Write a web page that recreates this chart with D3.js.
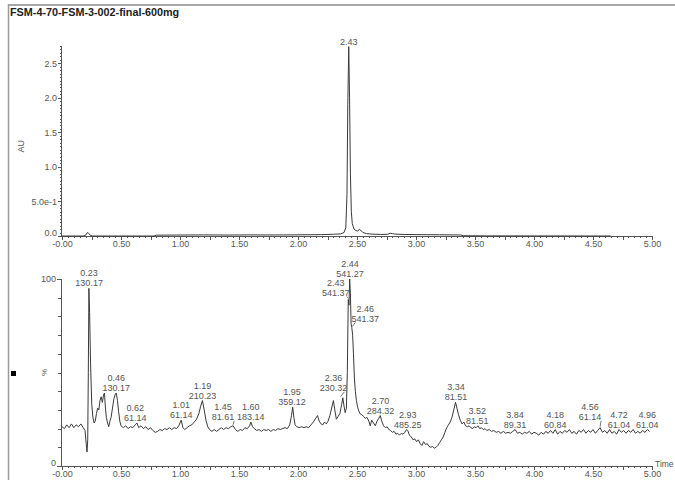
<!DOCTYPE html>
<html>
<head>
<meta charset="utf-8">
<script src="https://cdn.jsdelivr.net/npm/d3@7"></script>
<style>
  body { margin: 0; background: #fff; }
  svg { display: block; }
  text { font-family: "Liberation Sans", Arial, sans-serif; fill: #555; }
  .trace { fill: none; stroke: #3a3a3a; stroke-width: 1; stroke-linejoin: round; }
  .axis path, .axis line { stroke: #555; shape-rendering: crispEdges; }
</style>
</head>
<body>
<div id="chart"></div>
<script>
// Chart data
const title = "FSM-4-70-FSM-3-002-final-600mg";
const timeTicks = [0, 0.5, 1, 1.5, 2, 2.5, 3, 3.5, 4, 4.5, 5];
const timeTickLabels = ["-0.00", "0.50", "1.00", "1.50", "2.00", "2.50", "3.00", "3.50", "4.00", "4.50", "5.00"];
const auTicks = [0, 0.5, 1, 1.5, 2, 2.5];
const auTickLabels = ["0.0", "5.0e-1", "1.0", "1.5", "2.0", "2.5"];
const pctTicks = [0, 100];
const pctTickLabels = ["0", "100"];

// UV trace (time min, AU)
const uvTrace = [
  [0.00, 0], [0.18, 0], [0.20, 0.01], [0.21, 0.04], [0.22, 0.05], [0.23, 0.03], [0.24, 0.01],
  [0.26, 0], [0.78, 0], [0.80, 0.012], [1.00, 0.014], [1.20, 0.016], [1.40, 0.014], [1.60, 0.016],
  [1.80, 0.015], [2.00, 0.017], [2.20, 0.02], [2.30, 0.025], [2.36, 0.03], [2.39, 0.05],
  [2.405, 0.12], [2.415, 0.6], [2.422, 1.9], [2.43, 2.74], [2.437, 2.0], [2.444, 0.9],
  [2.452, 0.35], [2.46, 0.18], [2.475, 0.1], [2.49, 0.08], [2.505, 0.07], [2.52, 0.1],
  [2.53, 0.085], [2.55, 0.05], [2.58, 0.035], [2.62, 0.028], [2.70, 0.022], [2.76, 0.025],
  [2.78, 0.04], [2.80, 0.035], [2.82, 0.028], [2.90, 0.022], [3.00, 0.02], [3.20, 0.018],
  [3.38, 0.015], [3.40, 0.004], [3.60, 0.002], [4.00, 0.001], [4.65, 0]
];
const uvPeakTimes = [2.43];
const uvPeakValues = [2.74];

// MS TIC trace (time min, %)
const msTrace = [
  [0.00, 21.0], [0.02, 20.0], [0.04, 22.0], [0.06, 20.5], [0.08, 22.5], [0.10, 20.5], [0.12, 22.0],
  [0.14, 21.0], [0.16, 22.5], [0.18, 20.5], [0.195, 19.0], [0.205, 12.0], [0.212, 7.5], [0.218, 14.0],
  [0.223, 50.0], [0.228, 95.0], [0.234, 82.0], [0.242, 55.0], [0.252, 33.0], [0.262, 26.0],
  [0.272, 23.0], [0.282, 24.0], [0.292, 28.0], [0.302, 31.0], [0.312, 30.0], [0.322, 35.0],
  [0.332, 37.0], [0.342, 34.0], [0.352, 38.0], [0.360, 39.0], [0.368, 31.0], [0.376, 26.0],
  [0.386, 23.0], [0.396, 21.0], [0.406, 24.0], [0.416, 26.0], [0.428, 31.0], [0.440, 36.0],
  [0.452, 38.5], [0.460, 39.0], [0.470, 35.0], [0.480, 29.0], [0.490, 24.0], [0.500, 21.5],
  [0.52, 20.5], [0.54, 21.5], [0.56, 20.0], [0.58, 21.0], [0.60, 20.5], [0.62, 22.0], [0.635, 23.0],
  [0.65, 20.5], [0.67, 21.5], [0.69, 20.0], [0.71, 21.0], [0.73, 19.5], [0.75, 20.5], [0.77, 19.0],
  [0.79, 18.0], [0.81, 18.5], [0.83, 19.5], [0.85, 19.0], [0.87, 20.0], [0.89, 19.5], [0.91, 20.5],
  [0.93, 19.5], [0.95, 20.5], [0.97, 20.0], [0.99, 21.5], [1.01, 24.5], [1.025, 20.5], [1.04, 19.5],
  [1.06, 20.5], [1.08, 21.5], [1.10, 22.0], [1.12, 23.5], [1.14, 25.0], [1.16, 28.0], [1.175, 32.0],
  [1.19, 35.0], [1.205, 30.0], [1.22, 24.5], [1.235, 21.0], [1.25, 19.5], [1.27, 18.5], [1.29, 19.5],
  [1.31, 18.5], [1.33, 19.5], [1.35, 20.5], [1.37, 19.5], [1.39, 20.5], [1.41, 20.0], [1.43, 21.0],
  [1.45, 21.5], [1.47, 19.5], [1.49, 18.5], [1.51, 19.5], [1.53, 19.0], [1.55, 20.5], [1.57, 20.0],
  [1.59, 21.5], [1.60, 23.5], [1.615, 21.0], [1.63, 20.0], [1.65, 19.0], [1.67, 19.5], [1.69, 18.5],
  [1.71, 19.5], [1.73, 19.0], [1.75, 19.5], [1.77, 18.5], [1.79, 19.5], [1.81, 19.0], [1.83, 20.0],
  [1.85, 19.5], [1.87, 20.0], [1.89, 20.5], [1.91, 20.0], [1.93, 22.0], [1.945, 27.0], [1.955, 31.5],
  [1.965, 26.0], [1.975, 22.0], [1.99, 21.0], [2.01, 20.5], [2.03, 21.0], [2.05, 20.5], [2.07, 21.0],
  [2.09, 20.5], [2.11, 22.0], [2.13, 23.5], [2.15, 25.5], [2.165, 27.0], [2.18, 24.0], [2.195, 22.5],
  [2.21, 22.0], [2.225, 23.5], [2.24, 22.5], [2.255, 24.0], [2.27, 27.0], [2.285, 31.0], [2.30, 35.0],
  [2.312, 30.0], [2.325, 25.0], [2.34, 26.5], [2.355, 28.0], [2.37, 33.0], [2.38, 36.5], [2.39, 32.0],
  [2.40, 28.5], [2.41, 31.0], [2.418, 50.0], [2.426, 89.0], [2.432, 86.0], [2.438, 100.0],
  [2.444, 92.0], [2.45, 76.0], [2.456, 74.0], [2.463, 70.0], [2.47, 60.0], [2.478, 47.0],
  [2.486, 40.0], [2.495, 35.0], [2.505, 31.5], [2.515, 29.5], [2.525, 28.0], [2.54, 27.5],
  [2.555, 26.5], [2.57, 25.5], [2.585, 26.0], [2.60, 24.0], [2.612, 21.5], [2.625, 24.5],
  [2.64, 23.0], [2.655, 21.5], [2.67, 24.0], [2.685, 25.5], [2.697, 27.0], [2.71, 24.0],
  [2.725, 21.5], [2.74, 20.5], [2.755, 21.0], [2.77, 19.5], [2.785, 19.0], [2.80, 18.0],
  [2.815, 18.5], [2.83, 17.0], [2.845, 17.5], [2.86, 16.5], [2.875, 17.5], [2.89, 17.0],
  [2.905, 18.0], [2.92, 19.5], [2.93, 19.0], [2.945, 16.5], [2.96, 15.5], [2.975, 14.0],
  [2.99, 14.5], [3.005, 13.0], [3.02, 14.0], [3.035, 12.0], [3.05, 11.0], [3.065, 13.0],
  [3.08, 11.5], [3.095, 12.0], [3.11, 10.5], [3.125, 10.0], [3.14, 10.5], [3.155, 9.5],
  [3.17, 10.0], [3.185, 11.0], [3.20, 12.5], [3.215, 14.0], [3.23, 15.5], [3.245, 18.0],
  [3.26, 20.5], [3.275, 22.0], [3.29, 23.5], [3.305, 26.0], [3.32, 30.0], [3.335, 34.0],
  [3.347, 31.0], [3.36, 27.5], [3.375, 24.5], [3.39, 22.5], [3.405, 23.5], [3.42, 21.5],
  [3.435, 21.0], [3.45, 21.5], [3.465, 20.5], [3.48, 20.0], [3.495, 21.0], [3.51, 20.5],
  [3.525, 21.5], [3.54, 20.0], [3.555, 20.5], [3.57, 19.5], [3.585, 20.0], [3.60, 19.0],
  [3.62, 19.5], [3.64, 18.5], [3.66, 19.0], [3.68, 18.0], [3.70, 18.5], [3.72, 17.5], [3.74, 18.5],
  [3.76, 17.5], [3.78, 18.0], [3.80, 17.5], [3.82, 18.5], [3.84, 19.5], [3.86, 17.5], [3.88, 18.0],
  [3.90, 17.0], [3.92, 18.0], [3.94, 17.5], [3.96, 18.5], [3.98, 17.0], [4.00, 18.0], [4.02, 17.5],
  [4.04, 16.5], [4.06, 18.0], [4.08, 17.0], [4.10, 18.5], [4.12, 17.5], [4.14, 19.0], [4.16, 17.5],
  [4.18, 19.5], [4.20, 17.0], [4.22, 18.5], [4.24, 17.5], [4.26, 19.0], [4.28, 18.0], [4.30, 19.5],
  [4.32, 17.5], [4.34, 18.5], [4.36, 17.0], [4.38, 19.0], [4.40, 18.0], [4.42, 19.5], [4.44, 17.5],
  [4.46, 19.0], [4.48, 18.0], [4.50, 19.5], [4.52, 17.5], [4.54, 19.0], [4.56, 20.5], [4.58, 18.0],
  [4.60, 19.0], [4.62, 17.5], [4.64, 19.5], [4.66, 17.5], [4.68, 18.5], [4.70, 17.0], [4.72, 19.5],
  [4.74, 18.0], [4.76, 19.0], [4.78, 17.5], [4.80, 19.0], [4.82, 18.0], [4.84, 19.5], [4.86, 17.5],
  [4.88, 18.5], [4.90, 17.5], [4.92, 19.0], [4.94, 18.0], [4.96, 19.5], [4.98, 18.5]
];

// labelled MS peaks: retention time, base m/z, intensity %
const msPeakTimes = [0.23, 0.46, 0.62, 1.01, 1.19, 1.45, 1.60, 1.95, 2.36, 2.43, 2.44, 2.46,
                     2.70, 2.93, 3.34, 3.52, 3.84, 4.18, 4.56, 4.72, 4.96];
const msPeakMz = ["130.17", "130.17", "61.14", "61.14", "210.23", "81.61", "183.14", "359.12",
                  "230.32", "541.37", "541.27", "541.37", "284.32", "485.25", "81.51", "81.51",
                  "89.31", "60.84", "61.14", "61.04", "61.04"];
const msPeakPct = [95, 39, 23, 24.5, 35, 21.5, 23.5, 31.5, 36.5, 89, 100, 74,
                   27, 19.5, 34, 21.5, 19.5, 19.5, 20.5, 19.5, 19.5];

// label nudges (px) for crowded peaks, these get a leader line
const labelShift = { "1.45": [-10, -4], "2.36": [-7, -5], "2.43": [-13, -2], "2.46": [13, -4], "4.56": [-10, -6] };

const width = 675;
const height = 480;

const svg = d3.select("#chart")
              .append("svg")
              .attr("width", width)
              .attr("height", height);

// frame
svg.append("line")
   .attr("x1", 8).attr("x2", width).attr("y1", 5).attr("y2", 5)
   .style("stroke", "#a8a8a8").style("stroke-width", 2);
svg.append("line")
   .attr("x1", 8.5).attr("x2", 8.5).attr("y1", 4).attr("y2", height)
   .style("stroke", "#9a9a9a").style("stroke-width", 1.5);

svg.append("text")
   .attr("x", 10)
   .attr("y", 16)
   .style("font-size", "10.8px")
   .style("font-weight", "bold")
   .style("fill", "#222")
   .text(title);

const x = d3.scaleLinear().domain([0, 5]).range([62, 652]);
const yTop = d3.scaleLinear().domain([0, 2.75]).range([236, 46]);
const yBot = d3.scaleLinear().domain([0, 100]).range([466, 279]);

function drawTimeAxis(yPos) {
  const g = svg.append("g").attr("class", "axis").attr("transform", "translate(0," + yPos + ")");
  // minor ticks every 0.05, medium at quarter minutes
  g.append("g")
   .call(d3.axisBottom(x).tickValues(d3.range(0, 101).map(i => i / 20)).tickSize(2).tickFormat(""))
   .call(a => a.select(".domain").remove());
  g.append("g")
   .call(d3.axisBottom(x).tickValues(d3.range(0, 21).map(i => i / 4)).tickSize(4).tickFormat(""))
   .call(a => a.select(".domain").remove());
  g.append("g")
   .call(d3.axisBottom(x).tickValues(timeTicks).tickSize(4).tickPadding(1)
           .tickFormat((d, i) => timeTickLabels[i]))
   .call(a => a.select(".domain").attr("d", "M" + x(0) + ",0.5H" + x(5)))
   .call(a => a.selectAll("text").style("font-size", "9px").style("fill", "#555"));
}

// y axis labels at zero sit a little above the time labels
function liftZeroLabel(a) {
  a.selectAll(".tick")
   .filter(d => d === 0)
   .select("text")
   .attr("dy", "-0.05em");
}

// ---- UV panel
const gTopY = svg.append("g").attr("class", "axis").attr("transform", "translate(62,0)");
gTopY.append("g")
     .call(d3.axisLeft(yTop).tickValues(d3.range(0, 56).map(i => i * 0.05)).tickSize(2).tickFormat(""))
     .call(a => a.select(".domain").remove());
gTopY.append("g")
     .call(d3.axisLeft(yTop).tickValues(auTicks).tickSize(4).tickPadding(1)
             .tickFormat((d, i) => auTickLabels[i]))
     .call(a => a.select(".domain").attr("d", "M-0.5," + yTop(2.75) + "V" + yTop(0)))
     .call(a => a.selectAll("text").style("font-size", "9px").style("fill", "#555"))
     .call(liftZeroLabel);

svg.append("text")
   .attr("transform", "translate(24," + yTop(1.3) + ") rotate(-90)")
   .attr("text-anchor", "middle")
   .style("font-size", "9px")
   .text("AU");

drawTimeAxis(236);

const lineTop = d3.line().x(d => x(d[0])).y(d => yTop(d[1]));
svg.append("path")
   .datum(uvTrace)
   .attr("class", "trace")
   .attr("d", lineTop);

svg.selectAll(".uvlabel")
   .data(uvPeakTimes)
   .enter().append("text")
   .attr("class", "uvlabel")
   .attr("x", d => x(d))
   .attr("y", (d, i) => yTop(uvPeakValues[i]) - 2)
   .attr("text-anchor", "middle")
   .style("font-size", "9px")
   .text(d => d.toFixed(2));

// ---- MS panel
const gBotY = svg.append("g").attr("class", "axis").attr("transform", "translate(62,0)");
gBotY.append("g")
     .call(d3.axisLeft(yBot).tickValues(d3.range(0, 101, 10)).tickSize(4).tickFormat(""))
     .call(a => a.select(".domain").remove());
gBotY.append("g")
     .call(d3.axisLeft(yBot).tickValues(pctTicks).tickSize(5).tickPadding(1)
             .tickFormat((d, i) => pctTickLabels[i]))
     .call(a => a.select(".domain").attr("d", "M-0.5," + yBot(100) + "V" + yBot(0)))
     .call(a => a.selectAll("text").style("font-size", "9px").style("fill", "#555"))
     .call(liftZeroLabel);

svg.append("text")
   .attr("transform", "translate(47," + yBot(50) + ") rotate(-90)")
   .attr("text-anchor", "middle")
   .style("font-size", "8px")
   .text("%");

svg.append("rect")
   .attr("x", 11).attr("y", 371)
   .attr("width", 5).attr("height", 5)
   .style("fill", "#000");

drawTimeAxis(466);

svg.append("text")
   .attr("x", 655)
   .attr("y", 467)
   .style("font-size", "8.5px")
   .text("Time");

const lineBot = d3.line().x(d => x(d[0])).y(d => yBot(d[1]));
svg.append("path")
   .datum(msTrace)
   .attr("class", "trace")
   .attr("d", lineBot);

msPeakTimes.forEach((t, i) => {
  const px = x(t);
  const py = yBot(msPeakPct[i]);
  const shift = labelShift[t.toFixed(2)] || [0, 0];
  const lx = px + shift[0];
  const base2 = py - 2 + shift[1];

  const lbl = svg.append("text")
                 .attr("text-anchor", "middle")
                 .style("font-size", "9px");
  lbl.append("tspan").attr("x", lx).attr("y", base2 - 10).text(t.toFixed(2));
  lbl.append("tspan").attr("x", lx).attr("y", base2).text(msPeakMz[i]);

  if (shift[0] !== 0) {
    svg.append("line")
       .attr("x1", lx + (shift[0] < 0 ? 11 : -10))
       .attr("y1", base2 + 1)
       .attr("x2", px)
       .attr("y2", py - 1)
       .style("stroke", "#555")
       .style("stroke-width", 0.8);
  }
});
</script>
</body>
</html>
